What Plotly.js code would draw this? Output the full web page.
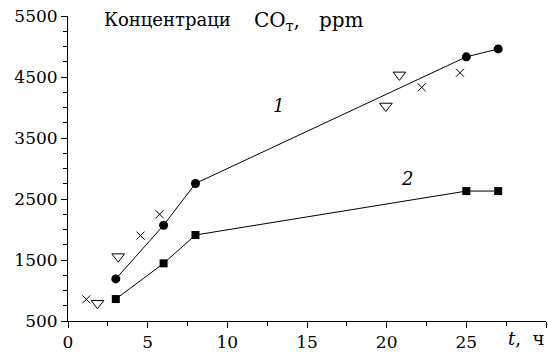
<!DOCTYPE html>
<html><head><meta charset="utf-8">
<script src="https://cdn.plot.ly/plotly-3.0.1.min.js"></script>
<style>html,body{margin:0;padding:0;background:#fff}</style>
</head><body><div id="c" style="width:548px;height:354px"></div>
<script>
// Curve 1 (circles)
const x1 = [3, 6, 8, 25, 27];
const y1 = [1190, 2070, 2755, 4830, 4960];
// Curve 2 (squares)
const x2 = [3, 6, 8, 25, 27];
const y2 = [860, 1445, 1910, 2630, 2630];
// Scatter crosses
const xc = [1.15, 4.55, 5.75, 22.2, 24.6];
const yc = [855, 1900, 2250, 4330, 4570];
// Scatter open triangles
const xt = [1.85, 3.15, 19.95, 20.8];
const yt = [790, 1555, 4025, 4535];
// Axis ticks
const xTicks = [0, 5, 10, 15, 20, 25, 30];
const xTickText = ["0", "5", "10", "15", "20", "25", ""];
const yTicks = [500, 1500, 2500, 3500, 4500, 5500];

const F = "DejaVu Serif";
const traces = [
  {x: x1, y: y1, mode: "lines+markers", line: {color: "#000", width: 1},
   marker: {symbol: "circle", size: 9, color: "#000"}},
  {x: x2, y: y2, mode: "lines+markers", line: {color: "#000", width: 1},
   marker: {symbol: "square", size: 8, color: "#000"}},
  {x: xc, y: yc, mode: "markers",
   marker: {symbol: "x-thin-open", size: 8, color: "#000", line: {width: 1, color: "#000"}}},
  {x: xt, y: yt, mode: "markers",
   marker: {symbol: "triangle-down-open", size: 11, color: "#000", line: {width: 1, color: "#000"}}}
];
const layout = {
  width: 548, height: 354, showlegend: false,
  margin: {l: 68, r: 2, t: 16, b: 33},
  paper_bgcolor: "#fff", plot_bgcolor: "#fff",
  font: {family: F, size: 17, color: "#000"},
  xaxis: {range: [0, 30], tickvals: xTicks, ticktext: xTickText, showgrid: false, zeroline: false,
    showline: true, linecolor: "#000", linewidth: 1, ticks: "outside", ticklen: 6, tickwidth: 1,
    tickcolor: "#000", tickfont: {family: F, size: 17},
    minor: {dtick: 2.5, tick0: 0, ticks: "outside", ticklen: 4, tickwidth: 1, tickcolor: "#000", showgrid: false}},
  yaxis: {range: [500, 5500], tickvals: yTicks, showgrid: false, zeroline: false,
    showline: true, linecolor: "#000", linewidth: 1, ticks: "outside", ticklen: 6, tickwidth: 1,
    tickcolor: "#000", tickfont: {family: F, size: 17},
    minor: {dtick: 250, tick0: 500, ticks: "outside", ticklen: 4, tickwidth: 1, tickcolor: "#000", showgrid: false}},
  annotations: [
    {xref: "paper", yref: "paper", x: 0.071, y: 0.987, xanchor: "left", yanchor: "middle", showarrow: false,
     text: "Концентраци", font: {family: F, size: 18}},
    {xref: "paper", yref: "paper", x: 0.385, y: 0.985, xanchor: "left", yanchor: "middle", showarrow: false,
     text: "CO<sub>т</sub>,&nbsp;&nbsp;&nbsp;ppm", font: {family: F, size: 20}},
    {xref: "x", yref: "y", x: 13.2, y: 4030, showarrow: false, text: "<i>1</i>", font: {family: F, size: 18}},
    {xref: "x", yref: "y", x: 21.3, y: 2840, showarrow: false, text: "<i>2</i>", font: {family: F, size: 18}},
    {xref: "paper", yref: "paper", x: 1.0, y: -0.058, xanchor: "right", yanchor: "middle", showarrow: false,
     text: "<i>t</i>,&nbsp;&nbsp;ч", font: {family: F, size: 18}}
  ]
};
Plotly.newPlot("c", traces, layout, {staticPlot: true, displayModeBar: false});
</script></body></html>
